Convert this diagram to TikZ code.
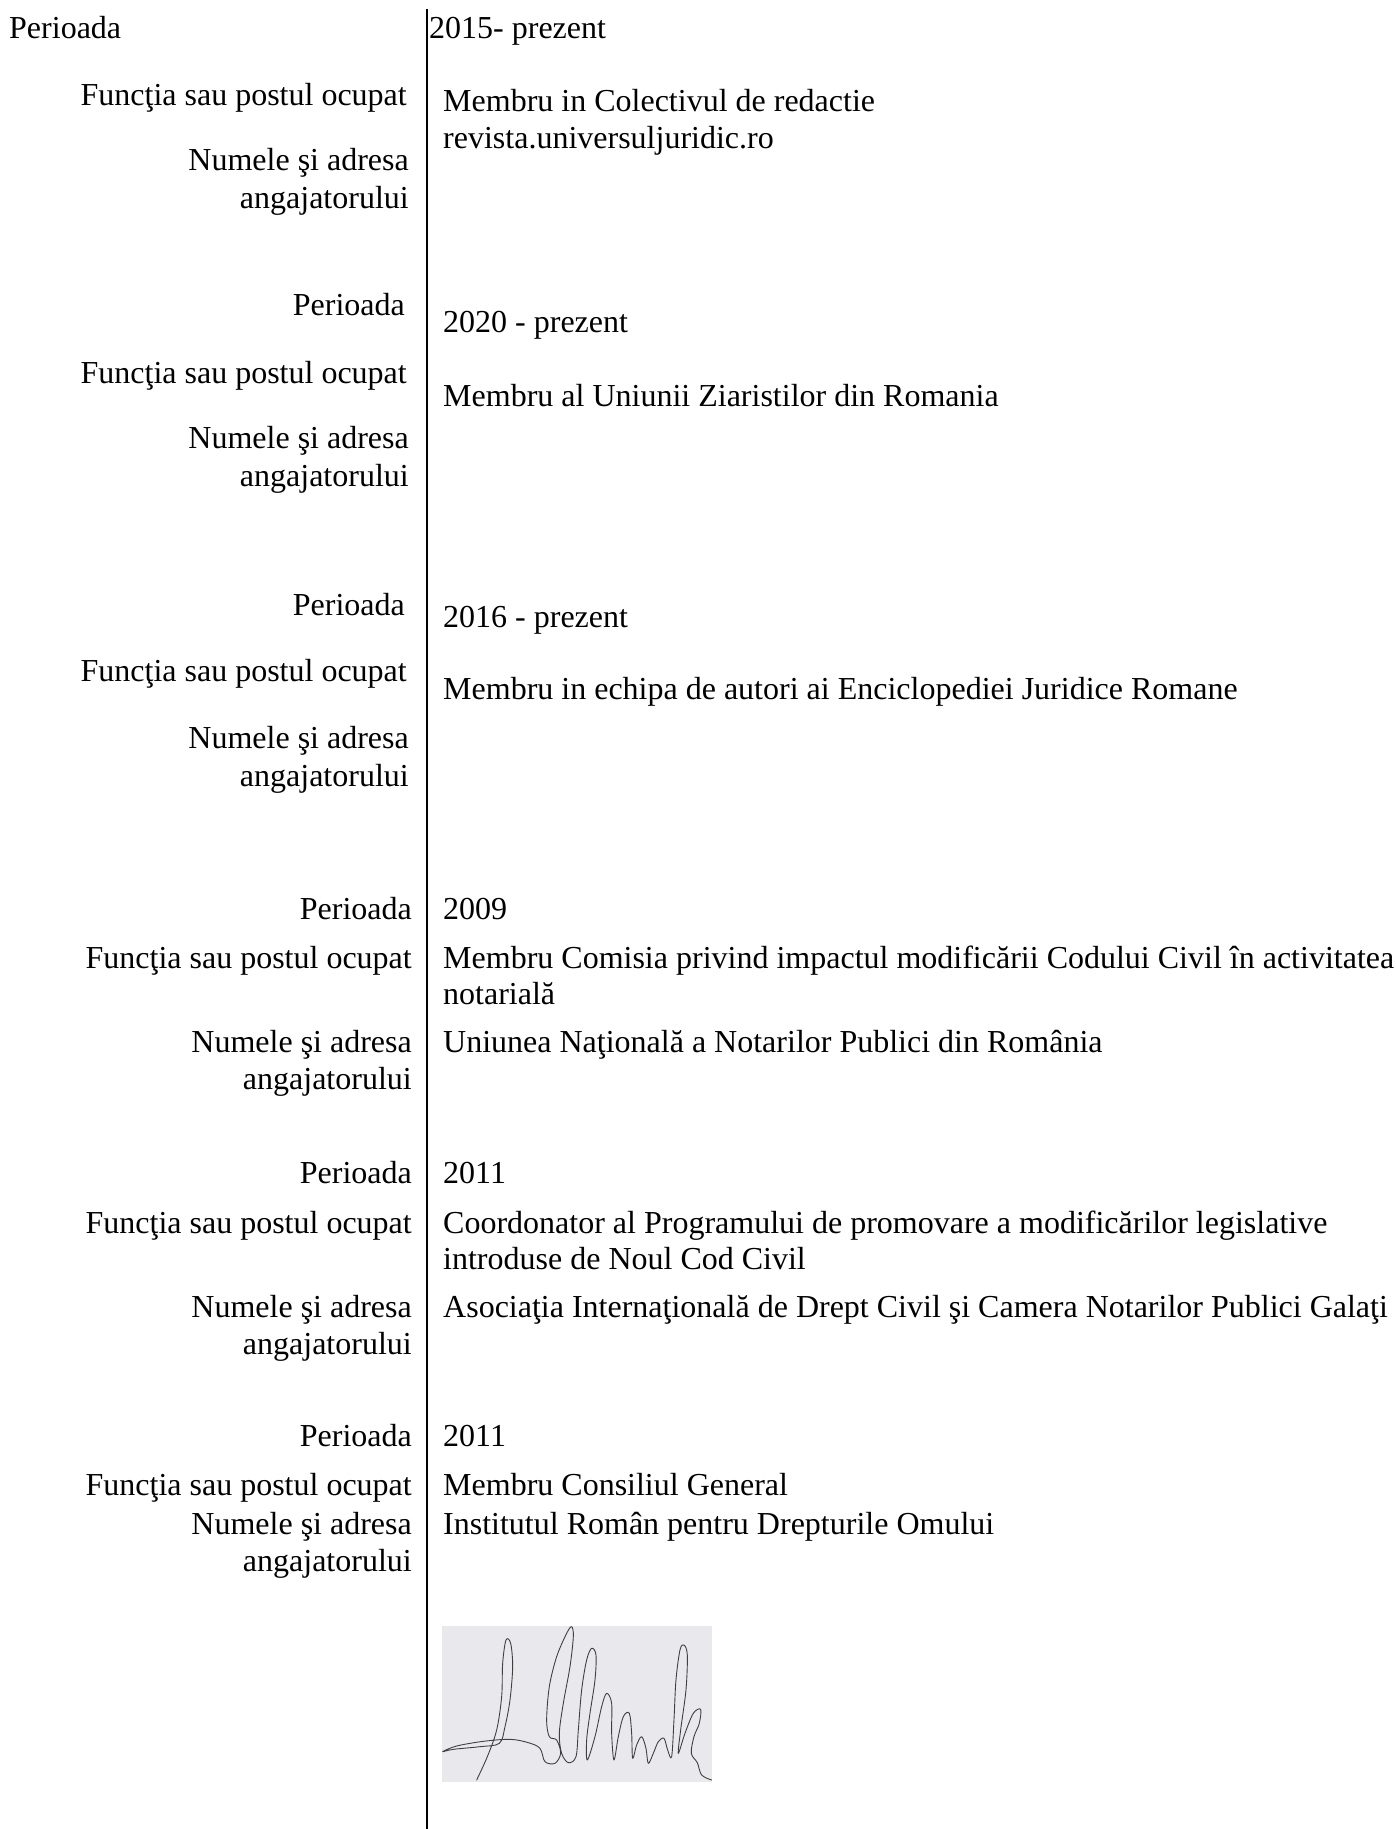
\documentclass[tikz,border=0pt]{standalone}
\usepackage{fontspec}
\setmainfont{Liberation Serif}
\begin{document}
\begin{tikzpicture}[x=1pt,y=-1pt,
  lbl/.style={anchor=base east,inner sep=0pt,font=\fontsize{32}{37}\selectfont},
  val/.style={anchor=base west,inner sep=0pt,font=\fontsize{32}{37}\selectfont},
  sig/.style={draw=black!75,line width=0.9pt,line join=round,line cap=round}]
\useasboundingbox (0,0) rectangle (1396,1829);
\fill[white] (0,0) rectangle (1396,1829);
% divider
\coordinate (top) at (427,9);
\coordinate (bot) at (427,1829);
\draw[line width=1.3pt] (top) -- (bot);
% block 1
\node[anchor=base west,inner sep=0pt,font=\fontsize{32}{37}\selectfont] (p1) at (9,38) {Perioada};
\node[val] (v1) at (429,38) {2015- prezent};
\node[lbl] (f1) at (407,105) {Funcţia sau postul ocupat};
\node[val] (w1a) at (443,111) {Membru in Colectivul de redactie};
\node[val] (w1b) at (443,148) {revista.universuljuridic.ro};
\node[lbl] (n1a) at (409,170) {Numele şi adresa};
\node[lbl] (n1b) at (409,208) {angajatorului};
% block 2
\node[lbl] (p2) at (405,315) {Perioada};
\node[val] (v2) at (443,332) {2020 - prezent};
\node[lbl] (f2) at (407,383) {Funcţia sau postul ocupat};
\node[val] (w2) at (443,406) {Membru al Uniunii Ziaristilor din Romania};
\node[lbl] (n2a) at (409,448) {Numele şi adresa};
\node[lbl] (n2b) at (409,486) {angajatorului};
% block 3
\node[lbl] (p3) at (405,615) {Perioada};
\node[val] (v3) at (443,627) {2016 - prezent};
\node[lbl] (f3) at (407,681) {Funcţia sau postul ocupat};
\node[val] (w3) at (443,699) {Membru in echipa de autori ai Enciclopediei Juridice Romane};
\node[lbl] (n3a) at (409,748) {Numele şi adresa};
\node[lbl] (n3b) at (409,786) {angajatorului};
% block 4
\node[lbl] (p4) at (412,919) {Perioada};
\node[val] (v4) at (443,919) {2009};
\node[lbl] (f4) at (412,968) {Funcţia sau postul ocupat};
\node[val] (w4a) at (443,968) {Membru Comisia privind impactul modificării Codului Civil în activitatea};
\node[val] (w4b) at (443,1004) {notarială};
\node[lbl] (n4a) at (412,1052) {Numele şi adresa};
\node[val] (e4) at (443,1052) {Uniunea Naţională a Notarilor Publici din România};
\node[lbl] (n4b) at (412,1089) {angajatorului};
% block 5
\node[lbl] (p5) at (412,1183) {Perioada};
\node[val] (v5) at (443,1183) {2011};
\node[lbl] (f5) at (412,1233) {Funcţia sau postul ocupat};
\node[val] (w5a) at (443,1233) {Coordonator al Programului de promovare a modificărilor legislative};
\node[val] (w5b) at (443,1269) {introduse de Noul Cod Civil};
\node[lbl] (n5a) at (412,1317) {Numele şi adresa};
\node[val] (e5) at (443,1317) {Asociaţia Internaţională de Drept Civil şi Camera Notarilor Publici Galaţi};
\node[lbl] (n5b) at (412,1354) {angajatorului};
% block 6
\node[lbl] (p6) at (412,1446) {Perioada};
\node[val] (v6) at (443,1446) {2011};
\node[lbl] (f6) at (412,1495) {Funcţia sau postul ocupat};
\node[val] (w6) at (443,1495) {Membru Consiliul General};
\node[lbl] (n6a) at (412,1534) {Numele şi adresa};
\node[val] (e6) at (443,1534) {Institutul Român pentru Drepturile Omului};
\node[lbl] (n6b) at (412,1571) {angajatorului};
% signature
\fill[color={rgb,255:red,233;green,233;blue,237}] (442,1626) rectangle (712,1782);
\begin{scope}[shift={(400,1580)},scale=0.3333]
\draw[sig] plot[smooth,tension=0.55] coordinates {(230,600) (262,530) (290,450) (305,350) (308,250) (318,180) (332,190) (338,260) (330,360) (315,440) (298,490) (240,500) (160,508) (128,515) (170,498) (250,484) (330,478) (385,488) (420,505) (435,545) (465,550) (482,520) (470,480) (448,470) (440,420) (448,320) (470,230) (500,160) (515,140) (520,170) (510,260) (490,370) (478,460) (485,520) (505,548) (528,530) (535,450) (545,330) (560,240) (575,205) (588,225) (585,300) (570,400) (560,480) (562,540) (585,470) (605,380) (620,340) (635,370) (635,460) (642,540) (655,470) (670,410) (688,400) (695,460) (698,535) (710,495) (725,470) (738,505) (745,550) (760,520) (775,485) (792,475) (803,510) (815,530) (822,420) (828,300) (840,210) (852,195) (862,225) (858,330) (842,450) (835,520) (855,460) (880,400) (902,388) (898,430) (882,470) (874,520) (892,548) (905,585) (935,600)};
\end{scope}
\end{tikzpicture}
\end{document}
